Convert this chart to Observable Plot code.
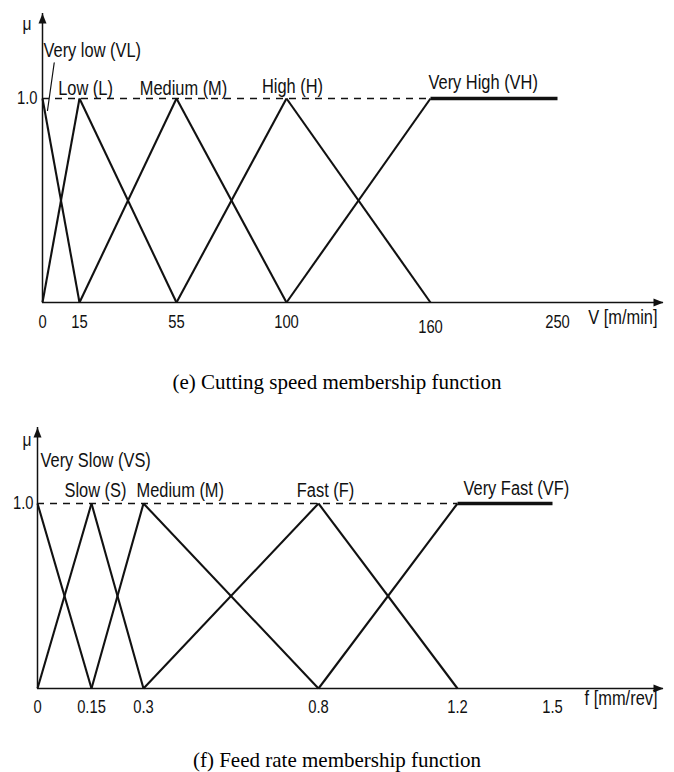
<!DOCTYPE html>
<html>
<head>
<meta charset="utf-8">
<script src="https://cdn.jsdelivr.net/npm/d3@7"></script>
<script src="https://cdn.jsdelivr.net/npm/@observablehq/plot@0.6"></script>
<style>
  html, body { margin: 0; padding: 0; background: #fff; }
  #wrap { position: relative; width: 674px; height: 772px; overflow: hidden; background: #fff; }
  .panel { position: absolute; left: 0; }
  .caption { position: absolute; left: 0; width: 674px; text-align: center; z-index: 2;
    font-family: "Liberation Serif", "Times New Roman", serif; font-size: 21px; line-height: 24px; color: #000; }
</style>
</head>
<body>
<div id="wrap">
  <div id="p1" class="panel" style="top:0px"></div>
  <div id="p2" class="panel" style="top:390px"></div>
  <div class="caption" style="top:370px">(e) Cutting speed membership function</div>
  <div class="caption" style="top:748px">(f) Feed rate membership function</div>
</div>
<script>
// ---- data: cutting speed ----
const speedTicks = [0, 15, 55, 100, 160, 250];
const speedSetNames = ["Very low (VL)", "Low (L)", "Medium (M)", "High (H)", "Very High (VH)"];
const speedSetX = [[0, 15], [0, 15, 55], [15, 55, 100], [55, 100, 160], [100, 160, 250]];
const speedSetMu = [[1, 0], [0, 1, 0], [0, 1, 0], [0, 1, 0], [0, 1, 1]];
const speedAxisTitle = "V [m/min]";

// ---- data: feed rate ----
const feedTicks = [0, 0.15, 0.3, 0.8, 1.2, 1.5];
const feedSetNames = ["Very Slow (VS)", "Slow (S)", "Medium (M)", "Fast (F)", "Very Fast (VF)"];
const feedSetX = [[0, 0.15], [0, 0.15, 0.3], [0.15, 0.3, 0.8], [0.3, 0.8, 1.2], [0.8, 1.2, 1.5]];
const feedSetMu = [[1, 0], [0, 1, 0], [0, 1, 0], [0, 1, 0], [0, 1, 1]];
const feedAxisTitle = "f [mm/rev]";

const muTicks = [1];
const muLabel = "μ";

// ---- chart ----
const sansFont = "'Liberation Sans', Arial, sans-serif";
const upArrow = {draw(ctx) { ctx.moveTo(0, -10); ctx.lineTo(4, 0); ctx.lineTo(-4, 0); ctx.closePath(); }};
const rightArrow = {draw(ctx) { ctx.moveTo(10, 0); ctx.lineTo(0, 4); ctx.lineTo(0, -4); ctx.closePath(); }};
const leaderShape = {draw(ctx, l) { ctx.moveTo(0, 0); ctx.lineTo(0, -l); }};

function panel(cfg) {
  const {ticks, names, setX, setMu, title, layout} = cfg;
  const segs = [];
  setX.forEach((xs, i) => {
    for (let j = 0; j < xs.length - 1; j++) {
      segs.push({x1: xs[j], y1: setMu[i][j], x2: xs[j + 1], y2: setMu[i][j + 1]});
    }
  });
  const peaks = setX.map((xs, i) => xs[setMu[i].indexOf(1)]);
  const plateauStart = peaks[peaks.length - 1];
  // non-uniform (piecewise) horizontal axis, as in the figure
  const piecewise = d3.scaleLinear().domain(ticks).range(layout.xRange);
  const labelMarks = names.map((name, i) => Plot.text([name], {
    x: () => peaks[i], y: () => 1, text: d => d,
    dx: layout.labels[i].dx, dy: layout.labels[i].dy, textAnchor: layout.labels[i].anchor,
    fontFamily: sansFont, fontSize: 20, fill: "#111"
  }));
  const extra = layout.leader ? [Plot.vector([0], {
    x: () => peaks[0], y: () => 1, length: layout.leader.length, rotate: layout.leader.rotate,
    anchor: "start", shape: leaderShape, dx: layout.leader.dx, dy: layout.leader.dy,
    stroke: "#111", strokeWidth: 1.2
  })] : [];
  const lowTicks = layout.lowTicks || [];
  return Plot.plot({
    width: 674,
    height: layout.height,
    marginTop: layout.top,
    marginBottom: layout.height - layout.base,
    marginLeft: layout.xRange[0],
    marginRight: 674 - layout.tipX,
    x: {transform: piecewise, domain: [0, 674], range: [0, 674], axis: null},
    y: {domain: [0, 1], range: [layout.base, layout.one], axis: null},
    style: {background: "transparent", overflow: "visible"},
    marks: [
      Plot.ruleY([1], {x1: () => ticks[0], x2: () => plateauStart, stroke: "#111", strokeWidth: 1.3, strokeDasharray: "7,6"}),
      Plot.ruleX([0], {stroke: "#111", strokeWidth: 1.5}),
      Plot.ruleY([0], {stroke: "#111", strokeWidth: 1.5}),
      Plot.dot([0], {x: d => d, frameAnchor: "top", symbol: upArrow, fill: "#111", stroke: "none", dy: 10}),
      Plot.dot([0], {y: d => d, frameAnchor: "right", symbol: rightArrow, fill: "#111", stroke: "none", dx: -10}),
      Plot.link(segs.filter(d => !(d.y1 === 1 && d.y2 === 1)), {x1: "x1", y1: "y1", x2: "x2", y2: "y2", stroke: "#111", strokeWidth: 2.1}),
      Plot.link(segs.filter(d => d.y1 === 1 && d.y2 === 1), {x1: "x1", y1: "y1", x2: "x2", y2: "y2", stroke: "#111", strokeWidth: 3.4}),
      Plot.text(ticks.filter(d => !lowTicks.includes(d)), {x: d => d, y: () => 0, text: d => String(d), dy: layout.tickDy,
        fontFamily: sansFont, fontSize: 18, fill: "#111"}),
      Plot.text(ticks.filter(d => lowTicks.includes(d)), {x: d => d, y: () => 0, text: d => String(d), dy: layout.tickDy + 5,
        fontFamily: sansFont, fontSize: 18, fill: "#111"}),
      Plot.text([title], {frameAnchor: "bottom-right", text: d => d, textAnchor: "end", dx: layout.titleDx, dy: layout.titleDy,
        fontFamily: sansFont, fontSize: 20, fill: "#111"}),
      Plot.text(muTicks, {x: () => ticks[0], y: d => d, text: d => d.toFixed(1), textAnchor: "end", dx: layout.oneDx,
        fontFamily: sansFont, fontSize: 18, fill: "#111"}),
      Plot.text([muLabel], {frameAnchor: "top-left", text: d => d, dx: layout.muDx, dy: layout.muDy,
        fontFamily: sansFont, fontSize: 19, fill: "#111"}),
      ...labelMarks,
      ...extra
    ]
  });
}

// condense the sans text horizontally (narrow face as in the figure)
function condense(svg, factor) {
  svg.querySelectorAll("text").forEach(t => {
    const len = t.getComputedTextLength();
    if (len > 0) {
      t.setAttribute("textLength", (len * factor).toFixed(2));
      t.setAttribute("lengthAdjust", "spacingAndGlyphs");
    }
  });
}

const svg1 = panel({
  ticks: speedTicks, names: speedSetNames, setX: speedSetX, setMu: speedSetMu, title: speedAxisTitle,
  layout: {
    height: 345, top: 13, base: 302, one: 98, tipX: 663,
    xRange: [42, 79, 176, 286, 430, 557],
    tickDy: 20, lowTicks: [160],
    titleDx: -6, titleDy: 21, oneDx: -5, muDx: -20, muDy: 3,
    labels: [
      {dx: 1, dy: -48, anchor: "start"},
      {dx: 6, dy: -10, anchor: "middle"},
      {dx: 7, dy: -10, anchor: "middle"},
      {dx: 6, dy: -12, anchor: "middle"},
      {dx: -2, dy: -16, anchor: "start"}
    ],
    leader: {length: 48, rotate: 8, dx: 5, dy: 12}
  }
});
document.getElementById("p1").appendChild(svg1);
condense(svg1, 0.82);

const svg2 = panel({
  ticks: feedTicks, names: feedSetNames, setX: feedSetX, setMu: feedSetMu, title: feedAxisTitle,
  layout: {
    height: 330, top: 37, base: 298, one: 113, tipX: 663,
    xRange: [37, 91, 143, 318, 457, 552],
    tickDy: 19,
    titleDx: -6, titleDy: 16, oneDx: -4, muDx: -15, muDy: 5,
    labels: [
      {dx: 3, dy: -43, anchor: "start"},
      {dx: 4, dy: -13, anchor: "middle"},
      {dx: -7, dy: -13, anchor: "start"},
      {dx: 7, dy: -13, anchor: "middle"},
      {dx: 6, dy: -15, anchor: "start"}
    ]
  }
});
document.getElementById("p2").appendChild(svg2);
condense(svg2, 0.82);
</script>
</body>
</html>
